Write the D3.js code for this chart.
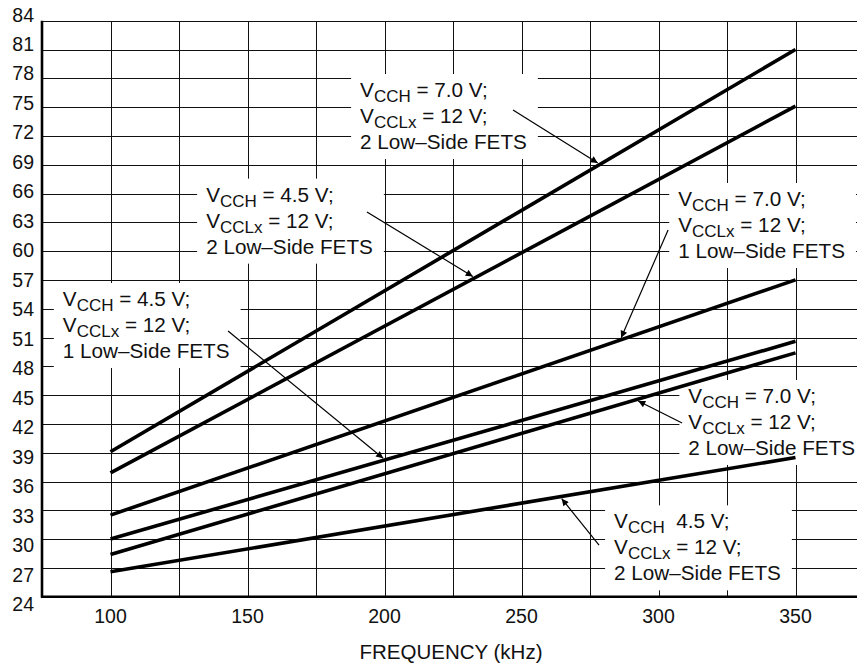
<!DOCTYPE html>
<html>
<head>
<meta charset="utf-8">
<script src="https://cdn.jsdelivr.net/npm/d3@7/dist/d3.min.js"></script>
<style>
  html, body { margin: 0; padding: 0; background: #fff; }
  svg { display: block; font-family: "Liberation Sans", Arial, Helvetica, sans-serif; }
</style>
</head>
<body>
<svg id="chart" width="857" height="663"></svg>
<script>
// ---------------- data ----------------
const freqs = [100, 350];                       // kHz
const seriesNames = [
  "VCCH=7.0V, 2 FETS (upper)",
  "VCCH=4.5V, 2 FETS",
  "VCCH=7.0V, 1 FET",
  "VCCH=4.5V, 1 FET",
  "VCCH=7.0V, 2 FETS (lower)",
  "VCCH=4.5V, 2 FETS (lower)"
];
const s1 = [39.1, 81.0];
const s2 = [36.9, 75.1];
const s3 = [32.5, 57.0];
const s4 = [30.0, 50.6];
const s5 = [28.4, 49.4];
const s6 = [26.6, 38.5];
const seriesValues = [s1, s2, s3, s4, s5, s6];

const yTicks = [24,27,30,33,36,39,42,45,48,51,54,57,60,63,66,69,72,75,78,81,84];
const xTickLabels = [100,150,200,250,300,350];
const xGrid = [100,125,150,175,200,225,250,275,300,325,350,375];
const xTitle = "FREQUENCY (kHz)";

// annotations: text lines [main, subscript, rest], text anchor (data), arrow start (data), arrow target (series, x)
const annotations = [
  { lines: [["V","CCH"," = 7.0 V;"],["V","CCLx"," = 12 V;"],["2 Low\u2013Side FETS"]],
    tx: 191.1, ty: 76.05, ax: 246.9, ay: 74.70, series: 0, tipX: 278.6 },
  { lines: [["V","CCH"," = 4.5 V;"],["V","CCLx"," = 12 V;"],["2 Low\u2013Side FETS"]],
    tx: 134.9, ty: 65.15, ax: 193.6, ay: 64.07, series: 1, tipX: 233.0 },
  { lines: [["V","CCH"," = 7.0 V;"],["V","CCLx"," = 12 V;"],["1 Low\u2013Side FETS"]],
    tx: 307.2, ty: 64.70, ax: 303.5, ay: 62.20, series: 2, tipX: 286.0 },
  { lines: [["V","CCH"," = 4.5 V;"],["V","CCLx"," = 12 V;"],["1 Low\u2013Side FETS"]],
    tx: 82.6, ty: 54.28, ax: 142.9, ay: 51.68, series: 3, tipX: 200.2 },
  { lines: [["V","CCH"," = 7.0 V;"],["V","CCLx"," = 12 V;"],["2 Low\u2013Side FETS"]],
    tx: 310.9, ty: 44.18, ax: 308.6, ay: 42.09, series: 4, tipX: 291.8 },
  { lines: [["V","CCH","  4.5 V;"],["V","CCLx"," = 12 V;"],["2 Low\u2013Side FETS"]],
    tx: 283.8, ty: 31.12, ax: 278.3, ay: 29.38, series: 5, tipX: 264.1 }
];

// ---------------- layout ----------------
const svg = d3.select("#chart");
const plotLeft = 42, plotTop = 20.7, plotBottom = 596.7;
const W = 857;
const x = d3.scaleLinear().domain([75, 375]).range([plotLeft, plotLeft + 12 * 68.5]);
const y = d3.scaleLinear().domain([24, 84]).range([plotBottom, plotTop]);
const yLab = d3.scaleLinear().domain([24, 84]).range([604.3, 14.5]);

const defs = svg.append("defs");
defs.append("marker").attr("id", "arr")
  .attr("viewBox", "0 0 10 10").attr("refX", 10).attr("refY", 5)
  .attr("markerWidth", 12).attr("markerHeight", 7)
  .attr("markerUnits", "userSpaceOnUse").attr("orient", "auto")
  .append("path").attr("d", "M0,0 L10,5 L0,10 Z").attr("fill", "#000");

const gridG = svg.append("g").attr("shape-rendering", "crispEdges");
const axisG = svg.append("g");
const boxG = svg.append("g");
const linesG = svg.append("g");
const textG = svg.append("g");
const arrowG = svg.append("g");

// gridlines
gridG.selectAll("line.h").data(yTicks).enter().append("line")
  .attr("x1", plotLeft).attr("x2", W)
  .attr("y1", d => Math.round(y(d)) + 0.5).attr("y2", d => Math.round(y(d)) + 0.5)
  .attr("stroke", "#111").attr("stroke-width", 1);
gridG.selectAll("line.v").data(xGrid).enter().append("line")
  .attr("x1", d => Math.round(x(d)) + 0.5).attr("x2", d => Math.round(x(d)) + 0.5)
  .attr("y1", plotTop).attr("y2", plotBottom)
  .attr("stroke", "#111").attr("stroke-width", 1);

// axes (thick)
axisG.append("line").attr("x1", plotLeft).attr("x2", plotLeft).attr("y1", plotTop).attr("y2", plotBottom + 1)
  .attr("stroke", "#000").attr("stroke-width", 2.6);
axisG.append("line").attr("x1", plotLeft - 1).attr("x2", W).attr("y1", plotBottom).attr("y2", plotBottom)
  .attr("stroke", "#000").attr("stroke-width", 2.6);

// tick labels
axisG.append("g").selectAll("text").data(yTicks).enter().append("text")
  .attr("x", 34).attr("y", d => yLab(d) + 7)
  .attr("text-anchor", "end").attr("font-size", "19.5px").attr("fill", "#111")
  .text(d => d);
axisG.append("g").selectAll("text").data(xTickLabels).enter().append("text")
  .attr("x", d => x(d)).attr("y", 622.5)
  .attr("text-anchor", "middle").attr("font-size", "19.5px").attr("fill", "#111")
  .text(d => d);
axisG.append("text").attr("x", 451).attr("y", 659)
  .attr("text-anchor", "middle").attr("font-size", "20.5px").attr("fill", "#111")
  .text(xTitle);

// data lines
const line = d3.line().x((d, i) => x(freqs[i])).y(d => y(d));
linesG.selectAll("path").data(seriesValues).enter().append("path")
  .attr("d", d => line(d)).attr("fill", "none")
  .attr("stroke", "#000").attr("stroke-width", 3.6).attr("stroke-linecap", "butt");

// annotations
const lineStep = 26;
annotations.forEach(a => {
  const t = textG.append("text").attr("font-size", "20.7px").attr("fill", "#111")
    .attr("xml:space", "preserve").style("white-space", "pre");
  a.lines.forEach((ln, i) => {
    const baseY = y(a.ty) + i * lineStep;
    t.append("tspan").attr("x", x(a.tx)).attr("y", baseY).text(ln[0]);
    if (ln.length > 1) {
      t.append("tspan").attr("font-size", "17px").attr("dy", 5).text(ln[1]);
      t.append("tspan").attr("dy", -5).text(ln[2]);
    }
  });
  const bb = t.node().getBBox();
  boxG.append("rect").attr("fill", "#fff")
    .attr("x", bb.x - 9).attr("y", bb.y - 4)
    .attr("width", bb.width + 20).attr("height", bb.height + 10);

  // arrow
  const sv = seriesValues[a.series];
  const lv = sv[0] + (sv[1] - sv[0]) * (a.tipX - freqs[0]) / (freqs[1] - freqs[0]);
  const x0 = x(a.ax), y0 = y(a.ay);
  let x1 = x(a.tipX), y1 = y(lv);
  const dx = x1 - x0, dy = y1 - y0, len = Math.hypot(dx, dy);
  x1 -= dx / len * 2.5; y1 -= dy / len * 2.5;
  arrowG.append("line").attr("x1", x0).attr("y1", y0).attr("x2", x1).attr("y2", y1)
    .attr("stroke", "#000").attr("stroke-width", 1.2).attr("marker-end", "url(#arr)");
});
</script>
</body>
</html>
